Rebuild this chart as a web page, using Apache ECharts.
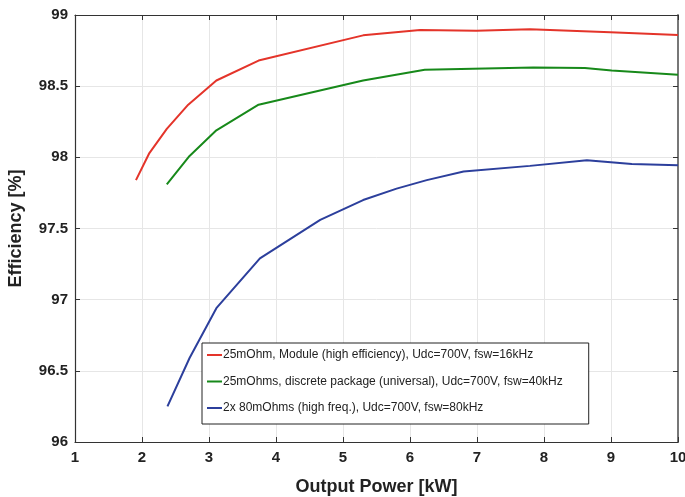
<!DOCTYPE html>
<html>
<head>
<meta charset="utf-8">
<title>Efficiency vs Output Power</title>
<script src="https://cdn.jsdelivr.net/npm/echarts@6/dist/echarts.min.js"></script>
<style>
  html, body { margin: 0; padding: 0; background: #fff; }
  #chart { width: 685px; height: 497px; }
</style>
</head>
<body>
<div id="chart"></div>
<script>
// output power [kW] and efficiency [%] per design
const moduleP = [1.91, 2.11, 2.37, 2.69, 3.11, 3.74, 5.3, 6.15, 6.99, 7.79, 8.99, 10];
const moduleEff = [97.84, 98.03, 98.2, 98.37, 98.54, 98.68, 98.857, 98.894, 98.89, 98.9, 98.878, 98.86];

const discreteP = [2.37, 2.71, 3.11, 3.74, 5.3, 6.22, 7.84, 8.61, 9.01, 10];
const discreteEff = [97.81, 98.01, 98.19, 98.37, 98.54, 98.615, 98.632, 98.627, 98.61, 98.58];

const hfP = [2.38, 2.71, 3.11, 3.76, 4.66, 5.3, 5.8, 6.25, 6.8, 7.79, 8.64, 9.31, 10];
const hfEff = [96.25, 96.59, 96.94, 97.29, 97.56, 97.7, 97.78, 97.84, 97.9, 97.94, 97.98, 97.953, 97.944];

const seriesNames = [
  '25mOhm, Module (high efficiency), Udc=700V, fsw=16kHz',
  '25mOhms, discrete package (universal), Udc=700V, fsw=40kHz',
  '2x 80mOhms (high freq.), Udc=700V, fsw=80kHz'
];
const colors = ['#e4342a', '#17891a', '#2c3f9c'];

const zip = (xs, ys) => xs.map((x, i) => [x, ys[i]]);

const labelFont = {
  fontFamily: "'Liberation Sans Narrow', 'Liberation Sans', Arial, sans-serif",
  fontWeight: 'bold',
  fontSize: 15,
  color: '#222'
};

const frameAxis = {
  axisLine: { show: true, lineStyle: { color: '#333', width: 1.2 } },
  axisTick: { show: true, inside: true, length: 5, lineStyle: { color: '#333' } },
  axisLabel: { show: false },
  splitLine: { show: false }
};

const chart = echarts.init(document.getElementById('chart'));

chart.setOption({
  animation: false,
  color: colors,
  grid: { left: 75, right: 7, top: 15, bottom: 55, outerBoundsMode: 'none' },
  legend: {
    orient: 'vertical',
    left: 202,
    top: 343,
    data: seriesNames,
    icon: 'rect',
    itemWidth: 15,
    itemHeight: 2,
    itemGap: 14.5,
    padding: [6, 26, 10, 5],
    borderColor: '#222',
    borderWidth: 1,
    borderRadius: 0,
    backgroundColor: '#fff',
    textStyle: {
      fontFamily: "'Liberation Sans', Arial, sans-serif",
      fontSize: 12,
      color: '#222',
      padding: [0, 0, 0, -4]
    }
  },
  xAxis: [
    {
      type: 'value',
      min: 1,
      max: 10,
      interval: 1,
      name: 'Output Power [kW]',
      nameLocation: 'middle',
      nameGap: 36,
      nameTextStyle: Object.assign({}, labelFont, { fontSize: 18 }),
      axisLine: { lineStyle: { color: '#333', width: 1.2 } },
      axisTick: { inside: true, length: 5, lineStyle: { color: '#333' } },
      axisLabel: Object.assign({ margin: 8 }, labelFont),
      splitLine: { show: true, lineStyle: { color: '#e6e6e6', width: 1 } }
    },
    Object.assign({ type: 'value', position: 'top', min: 1, max: 10, interval: 1 }, frameAxis)
  ],
  yAxis: [
    {
      type: 'value',
      min: 96,
      max: 99,
      interval: 0.5,
      name: 'Efficiency [%]',
      nameLocation: 'middle',
      nameGap: 50,
      nameTextStyle: Object.assign({}, labelFont, { fontSize: 18 }),
      axisLine: { show: true, lineStyle: { color: '#333', width: 1.2 } },
      axisTick: { show: true, inside: true, length: 5, lineStyle: { color: '#333' } },
      axisLabel: Object.assign({ margin: 7 }, labelFont),
      splitLine: { show: true, lineStyle: { color: '#e6e6e6', width: 1 } }
    },
    Object.assign({ type: 'value', position: 'right', min: 96, max: 99, interval: 0.5 }, frameAxis,
      { axisLine: { show: true, lineStyle: { color: '#777', width: 2 } } })
  ],
  series: [
    { name: seriesNames[0], data: zip(moduleP, moduleEff) },
    { name: seriesNames[1], data: zip(discreteP, discreteEff) },
    { name: seriesNames[2], data: zip(hfP, hfEff) }
  ].map(s => Object.assign({
    type: 'line',
    showSymbol: false,
    lineStyle: { width: 2 },
    xAxisIndex: 0,
    yAxisIndex: 0
  }, s))
});
</script>
</body>
</html>
